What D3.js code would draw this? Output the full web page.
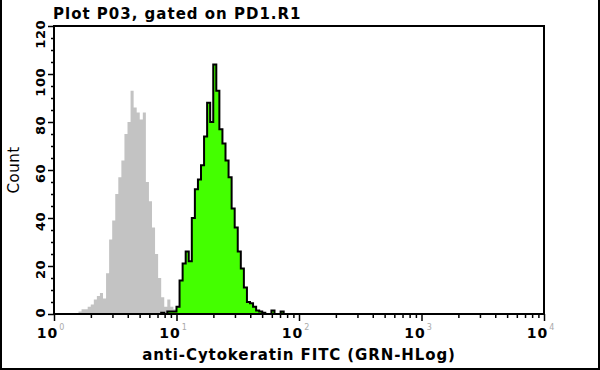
<!DOCTYPE html>
<html>
<head>
<meta charset="utf-8">
<script src="https://cdn.jsdelivr.net/npm/d3@7"></script>
<style>
  body { margin: 0; background: #fff; }
  svg text { font-family: "DejaVu Sans", sans-serif; fill: #000; }
</style>
</head>
<body>
<svg id="chart"></svg>
<script>
// histogram channels: 40 bins per decade, counts
const binsPerDecade = 40;

const grayFirstBin = 8;
const grayCounts = [1, 2, 2, 3, 4, 6, 7.5, 8.7, 6.5, 17, 31, 39, 50, 57, 64, 75,
  80, 93, 86, 84, 81, 84, 55, 47, 36, 25, 15, 7, 3, 6, 3, 2, 1];

const greenFirstBin = 35;
const greenCounts = [0.5, 0, 1, 1, 1, 3, 14, 21, 26, 22, 40, 52, 56, 62, 74, 88,
  80, 104, 93, 77, 71, 64, 57, 44, 36, 26, 19, 11, 5, 4.5, 3, 1.5, 1, 0.5, 0, 0,
  1.5, 0, 0, 1];

const decades = [0, 1, 2, 3, 4];
const yTicks = [0, 20, 40, 60, 80, 100, 120];

const title = 'Plot P03, gated on PD1.R1';
const xTitle = 'anti-Cytokeratin FITC (GRN-HLog)';
const yTitle = 'Count';

const width = 600, height = 370;
const margin = { top: 26, right: 56, bottom: 56, left: 54 };

const svg = d3.select('#chart')
  .attr('width', width)
  .attr('height', height);

const x = d3.scaleLog()
  .domain([1, 1e4])
  .range([margin.left, width - margin.right]);

const y = d3.scaleLinear()
  .domain([0, 120])
  .range([height - margin.bottom, margin.top]);

const toBins = (first, counts) => counts.map((c, i) => ({
  x0: Math.pow(10, (first + i) / binsPerDecade),
  x1: Math.pow(10, (first + i + 1) / binsPerDecade),
  count: c
}));

const stepArea = d3.area()
  .x(d => x(d.v))
  .y0(y(0))
  .y1(d => y(d.c));
const stepLine = d3.line()
  .x(d => x(d.v))
  .y(d => y(d.c));

function stepPoints(bins) {
  const pts = [{ v: bins[0].x0, c: 0 }];
  bins.forEach(b => {
    pts.push({ v: b.x0, c: b.count });
    pts.push({ v: b.x1, c: b.count });
  });
  pts.push({ v: bins[bins.length - 1].x1, c: 0 });
  return pts;
}

const grayPts = stepPoints(toBins(grayFirstBin, grayCounts));
const greenPts = stepPoints(toBins(greenFirstBin, greenCounts));

// control histogram
svg.append('path')
  .attr('d', stepArea(grayPts))
  .attr('fill', '#c3c3c3');

// stained histogram
svg.append('path')
  .attr('d', stepArea(greenPts))
  .attr('fill', '#44ff00');
svg.append('path')
  .attr('d', stepLine(greenPts))
  .attr('fill', 'none')
  .attr('stroke', '#000')
  .attr('stroke-width', 2)
  .attr('stroke-linejoin', 'miter');

// frame
svg.append('rect')
  .attr('x', x(1))
  .attr('y', y(120))
  .attr('width', x(1e4) - x(1))
  .attr('height', y(0) - y(120))
  .attr('fill', 'none')
  .attr('stroke', '#000')
  .attr('stroke-width', 2);

// X axis (log, minor ticks)
const isDecade = d => Math.abs(Math.log10(d) - Math.round(Math.log10(d))) < 1e-9;
const xAxis = d3.axisBottom(x)
  .tickValues(d3.range(0, 4).flatMap(e => d3.range(1, 10).map(m => m * Math.pow(10, e))).concat([1e4]))
  .tickSize(4)
  .tickFormat('');
const gx = svg.append('g')
  .attr('transform', `translate(0,${y(0)})`)
  .call(xAxis);
gx.select('.domain').remove();
gx.selectAll('.tick line')
  .attr('stroke-width', 1.5)
  .attr('y2', d => isDecade(d) ? 7 : 4);

const xl = svg.append('g');
decades.forEach(e => {
  const t = xl.append('text')
    .attr('x', x(Math.pow(10, e)) - 3)
    .attr('y', 338)
    .attr('text-anchor', 'middle')
    .style('font-size', '14px')
    .style('font-weight', 'bold')
    .style('letter-spacing', '1px');
  t.append('tspan').text('10');
  t.append('tspan')
    .attr('dy', -8)
    .attr('dx', 1)
    .style('font-size', '8px')
    .style('font-weight', 'normal')
    .style('fill', '#aaa')
    .text(e);
});

// Y axis
const yAxis = d3.axisLeft(y)
  .tickValues(d3.range(0, 121, 5))
  .tickSize(3)
  .tickFormat('');
const gy = svg.append('g')
  .attr('transform', `translate(${x(1)},0)`)
  .call(yAxis);
gy.select('.domain').remove();
gy.selectAll('.tick line')
  .attr('stroke-width', 1.5)
  .attr('x2', d => d % 20 === 0 ? -6 : -3);

svg.append('g').selectAll('text')
  .data(yTicks)
  .enter()
  .append('text')
  .attr('transform', d => `translate(45,${y(d) - 6}) rotate(-90)`)
  .attr('text-anchor', 'end')
  .style('font-size', '13px')
  .style('font-weight', 'bold')
  .style('letter-spacing', '0.5px')
  .text(d => d);

// titles
svg.append('text')
  .attr('x', 53)
  .attr('y', 19)
  .style('font-size', '15px')
  .style('font-weight', 'bold')
  .style('letter-spacing', '1px')
  .text(title);

svg.append('text')
  .attr('x', (x(1) + x(1e4)) / 2)
  .attr('y', 360)
  .attr('text-anchor', 'middle')
  .style('font-size', '15px')
  .style('font-weight', 'bold')
  .style('letter-spacing', '0.9px')
  .text(xTitle);

svg.append('text')
  .attr('transform', `translate(19,${(y(0) + y(120)) / 2}) rotate(-90)`)
  .attr('text-anchor', 'middle')
  .style('font-size', '15px')
  .style('letter-spacing', '0.5px')
  .text(yTitle);

// outer border (left, right, bottom)
svg.append('path')
  .attr('d', `M1,0V${height - 1}H${width - 1}V0`)
  .attr('fill', 'none')
  .attr('stroke', '#000')
  .attr('stroke-width', 2);
</script>
</body>
</html>
